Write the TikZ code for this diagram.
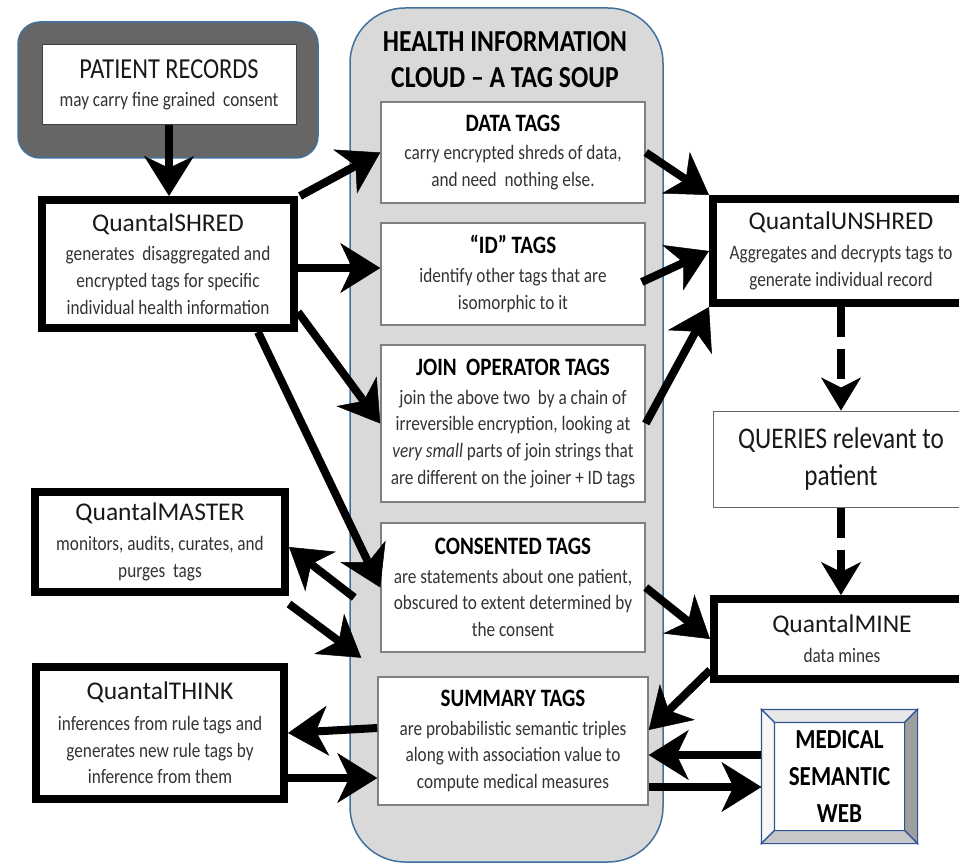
\documentclass[tikz,border=0pt]{standalone}
\usepackage{fontspec}
\setmainfont{Carlito}[FakeStretch=0.84]
\newfontfamily\qfont{Carlito}
\usetikzlibrary{arrows.meta,calc}

\definecolor{cloudfill}{HTML}{D9D9D9}
\definecolor{cloudline}{HTML}{41719C}
\definecolor{prfill}{HTML}{666666}
\definecolor{bevelline}{HTML}{2F5597}
\definecolor{desctext}{HTML}{333333}
\definecolor{tagline}{HTML}{808080}

\newcommand\descsize{\fontsize{20.5}{26.7}\selectfont}
\newcommand\mkq[1]{{\color{black!90}\qfont\fontsize{25.5}{30}\selectfont #1}}
\newcommand\mktag[1]{{\color{black}\bfseries\fontsize{25}{30}\selectfont #1}}

\tikzset{
  qbox/.style={draw=black, line width=8pt, fill=white, align=center,
    inner sep=0pt, font=\descsize, text=desctext},
  tagbox/.style={draw=tagline, line width=1.5pt, fill=white, align=center,
    inner sep=0pt, minimum width=264, font=\descsize, text=desctext},
  arr/.style={line width=8pt,
    -{Stealth[length=40pt,width=50pt,inset=12pt,line width=0.5pt]}},
  darr/.style={line width=8pt, dash pattern=on 30pt off 12pt,
    -{Stealth[length=33pt,width=40pt,inset=10pt,line width=0.5pt]}},
}

\begin{document}
\begin{tikzpicture}[x=1pt,y=-1pt]
\useasboundingbox (0,0) rectangle (959,864);
\clip (0,0) rectangle (959,864);

% the tag cloud
\node[draw=cloudline, line width=1.5pt, fill=cloudfill, rounded corners=55pt,
      minimum width=313, minimum height=854, inner sep=0pt] (cloud) at (506.5,435) {};
\node[font=\bfseries\fontsize{30.5}{36}\selectfont, align=center, inner sep=0pt]
  (cloudtitle) at (505,60) {HEALTH INFORMATION\\CLOUD -- A TAG SOUP};

\node[tagbox, minimum height=101] (data) at (513,152.5)
  {\mktag{DATA TAGS}\\[2pt]carry encrypted shreds of data,\\and need\ \ nothing else.};
\node[tagbox, minimum height=102] (idtags) at (513,274)
  {\mktag{“ID” TAGS}\\[2pt]identify other tags that are\\isomorphic to it};
\node[tagbox, minimum height=157] (join) at (513,423.5)
  {\mktag{JOIN\ \ OPERATOR TAGS}\\[2pt]join the above two\ \ by a chain of\\irreversible encryption, looking at\\\textit{very small} parts of join strings that\\are different on the joiner + ID tags};
\node[tagbox, minimum height=129] (consent) at (513,587.5)
  {\mktag{CONSENTED TAGS}\\[2pt]are statements about one patient,\\obscured to extent determined by\\the consent};
\node[tagbox, minimum height=128, minimum width=270] (summary) at (513,741)
  {\mktag{SUMMARY TAGS}\\[2pt]are probabilistic semantic triples\\along with association value to\\compute medical measures};

% patient records
\node[draw=cloudline, line width=1.5pt, fill=prfill, rounded corners=22pt,
      minimum width=300, minimum height=136, inner sep=0pt] (pr) at (168,90) {};
\node[draw=black!75, line width=1pt, fill=white, minimum width=254, minimum height=80,
      inner sep=0pt, align=center, font=\descsize, text=desctext] (prin) at (169,85)
  {{\color{black!90}\fontsize{29}{30}\selectfont PATIENT RECORDS}\\[1pt]may carry fine grained\ \ consent};

% left side agents
\node[qbox, minimum width=252, minimum height=128] (shred) at (168,264)
  {\mkq{QuantalSHRED}\\[3pt]generates\ \ disaggregated and\\encrypted tags for specific\\individual health information};
\node[qbox, minimum width=250, minimum height=100] (master) at (160,542)
  {\mkq{QuantalMASTER}\\[3pt]monitors, audits, curates, and\\purges\ \ tags};
\node[qbox, minimum width=248, minimum height=132] (think) at (160,733)
  {\mkq{QuantalTHINK}\\[4pt]inferences from rule tags and\\generates new rule tags by\\inference from them};

% right side agents
\node[qbox, minimum width=256, minimum height=104] (unshred) at (841,251)
  {\mkq{QuantalUNSHRED}\\[3pt]Aggregates and decrypts tags to\\generate individual record};
\node[draw=black!60, line width=1pt, fill=white, minimum width=256, minimum height=96,
      inner sep=0pt, align=center, font=\fontsize{30}{37}\selectfont, text=black!90]
  (queries) at (841,459) {QUERIES relevant to\\patient};
\node[qbox, minimum width=256, minimum height=80] (mine) at (842,639)
  {\mkq{QuantalMINE}\\[3pt]data mines};

% medical semantic web, a bevelled button
\node[draw=bevelline, line width=1.2pt, fill=white, minimum width=155, minimum height=133,
      inner sep=0pt, align=center, font=\bfseries\fontsize{27.5}{37}\selectfont] (med) at (839.5,776.5)
  {MEDICAL\\SEMANTIC\\WEB};
\coordinate (mi1) at ($(med.north west)+(13,13)$);
\coordinate (mi2) at ($(med.north east)+(-13,13)$);
\coordinate (mi3) at ($(med.south east)+(-13,-13)$);
\coordinate (mi4) at ($(med.south west)+(13,-13)$);
\begin{scope}[draw=bevelline, line width=1.2pt, line join=miter]
  \filldraw[fill=black!9]  (med.north west) -- (med.north east) -- (mi2) -- (mi1) -- cycle;
  \filldraw[fill=black!3]  (med.north west) -- (mi1) -- (mi4) -- (med.south west) -- cycle;
  \filldraw[fill=black!38] (med.north east) -- (med.south east) -- (mi3) -- (mi2) -- cycle;
  \filldraw[fill=black!22] (med.south west) -- (mi4) -- (mi3) -- (med.south east) -- cycle;
\end{scope}

% connectors
\draw[arr] (prin.south) -- (prin.south |- shred.north);
\draw[arr] ($(shred.north east)+(2,0)$) -- (data.west);
\draw[arr] ($(shred.east)+(0,4)$) -- ($(shred.east -| idtags.west)+(0,4)$);
\draw[arr] ($(shred.east)+(0,48)$) -- (join.west);
\draw[arr] ($(shred.south)+(90,0)$) -- (consent.west);

\draw[arr] (data.east) -- (unshred.north west);
\draw[arr] ($(idtags.east)+(-4,8)$) -- (unshred.west);
\draw[arr] (join.east) -- (unshred.south west);

\draw[darr] (unshred.south) -- (queries.north);
\draw[darr] (queries.south) -- (queries.south |- mine.north);

\draw[arr] (consent.east) -- (mine.west);
\draw[arr] ($(mine.south west)+(0,-13)$) -- ($(summary.east)+(0,-11)$);
\draw[arr] ($(med.west)+(0,-21.5)$) -- ($(med.west -| summary.east)+(0,-21.5)$);
\draw[arr] ($(med.west -| summary.east)+(0,10.5)$) -- ($(med.west)+(0,10.5)$);

\draw[arr] ($(consent.west)+(-26,10)$) -- ($(master.east)+(0,5)$);
\draw[arr] ($(master.south east)+(0,8)$) -- ($(consent.south west)+(-19,5)$);
\draw[arr] ($(summary.west)+(0,-13)$) -- (think.east);
\draw[arr] ($(think.east)+(0,45)$) -- ($(think.east -| summary.west)+(0,45)$);
\end{tikzpicture}
\end{document}
